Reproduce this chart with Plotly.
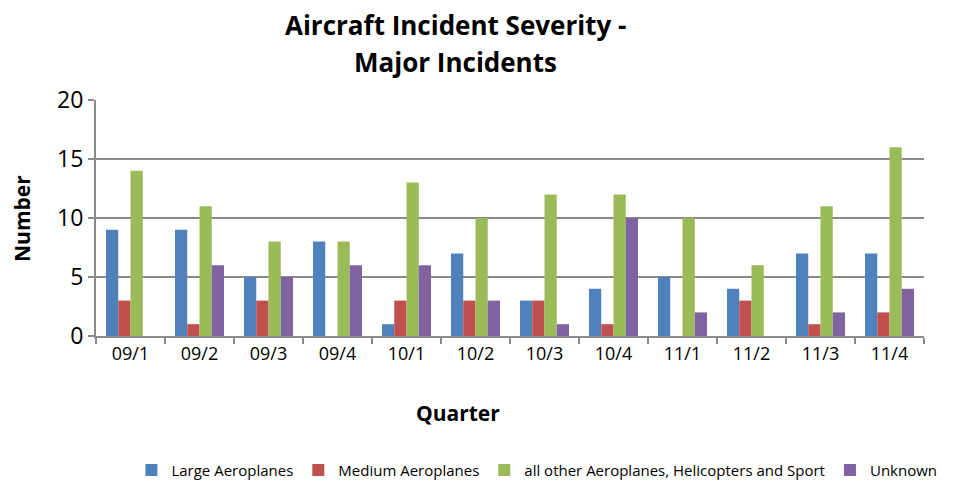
import plotly.graph_objects as go

quarters = ['09/1', '09/2', '09/3', '09/4', '10/1', '10/2',
            '10/3', '10/4', '11/1', '11/2', '11/3', '11/4']
large = [9, 9, 5, 8, 1, 7, 3, 4, 5, 4, 7, 7]
medium = [3, 1, 3, 0, 3, 3, 3, 1, 0, 3, 1, 2]
other = [14, 11, 8, 8, 13, 10, 12, 12, 10, 6, 11, 16]
unknown = [0, 6, 5, 6, 6, 3, 1, 10, 2, 0, 2, 4]

series = [
    ('Large Aeroplanes', large, '#4F81BD'),
    ('Medium Aeroplanes', medium, '#C0504D'),
    ('all other Aeroplanes, Helicopters and Sport', other, '#9BBB59'),
    ('Unknown', unknown, '#8064A2'),
]

FONT = 'Open Sans, sans-serif'
GRID = '#8a8a8a'

fig = go.Figure()
for name, vals, color in series:
    fig.add_trace(go.Bar(
        name=name,
        x=quarters,
        y=vals,
        marker=dict(color=color, line=dict(width=0)),
    ))

# page body adds an 8px offset, so the figure is drawn 8px smaller
fig.update_layout(
    width=953,
    height=476,
    paper_bgcolor='white',
    plot_bgcolor='white',
    font=dict(family=FONT, color='black'),
    barmode='group',
    bargap=0.29,
    bargroupgap=0,
    margin=dict(l=88, r=37, t=92, b=148),
    showlegend=True,
    legend=dict(
        orientation='h',
        xref='container', x=0.555, xanchor='center',
        yref='container', y=0.029, yanchor='middle',
        font=dict(size=15, family=FONT),
        traceorder='normal',
        itemwidth=30,
    ),
)

# title, two lines placed separately for spacing
fig.add_annotation(text='<b>Aircraft Incident Severity -</b>', xref='paper', yref='paper',
                   x=0.4336, y=1.318, xanchor='center', yanchor='middle',
                   showarrow=False, font=dict(size=26, family=FONT))
fig.add_annotation(text='<b>Major Incidents</b>', xref='paper', yref='paper',
                   x=0.4336, y=1.161, xanchor='center', yanchor='middle',
                   showarrow=False, font=dict(size=26, family=FONT))
fig.add_annotation(text='<b>Quarter</b>', xref='paper', yref='paper',
                   x=0.437, y=-0.326, xanchor='center', yanchor='middle',
                   showarrow=False, font=dict(size=21, family=FONT))
fig.add_annotation(text='<b>Number</b>', xref='paper', yref='paper',
                   x=-0.0894, y=0.5, xanchor='center', yanchor='middle',
                   textangle=-90, showarrow=False, font=dict(size=21, family=FONT))

fig.update_xaxes(
    tickfont=dict(size=18),
    showline=True, linecolor=GRID, linewidth=2,
    ticks='outside', tickson='boundaries', ticklen=6,
    tickcolor=GRID, tickwidth=2,
)
fig.update_yaxes(
    tickfont=dict(size=23),
    range=[0, 20], dtick=5,
    showgrid=True, gridcolor=GRID, gridwidth=2,
    showline=True, linecolor=GRID, linewidth=2,
    ticks='outside', ticklen=6, tickcolor=GRID, tickwidth=2,
    zeroline=False,
)

fig.write_html('out.html')
